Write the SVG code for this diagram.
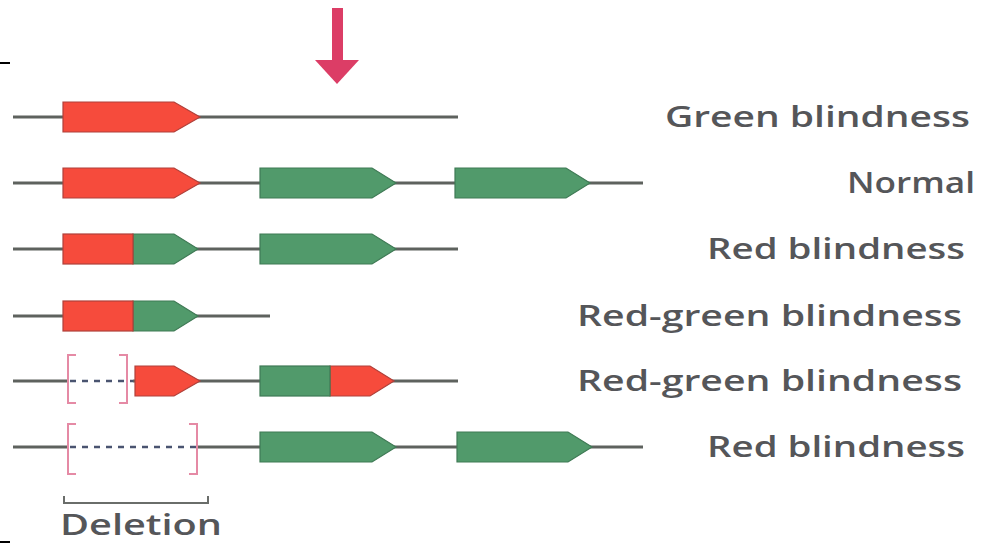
<svg xmlns="http://www.w3.org/2000/svg" width="986" height="543" viewBox="0 0 986 543">
<defs>
<style>
.chr{stroke:#5e625e;stroke-width:3;fill:none}
.dash{stroke:#4a5470;stroke-width:2.5;stroke-dasharray:6 6;fill:none}
.red{fill:#f64b3c;stroke:#b0403a;stroke-width:1.2}
.grn{fill:#519a6b;stroke:#3f7a55;stroke-width:1.2}
.brk{stroke:#e58aa5;stroke-width:2;fill:none}
.lbl{font-family:"Open Sans","Liberation Sans",sans-serif;font-size:28px;font-weight:600;fill:#555659}
</style>
</defs>
<rect width="986" height="543" fill="#ffffff"/>
<line x1="0" y1="63" x2="10" y2="63" stroke="#000" stroke-width="2"/>
<line x1="0" y1="542" x2="10" y2="542" stroke="#000" stroke-width="2"/>
<g id="arrow">
<rect x="332" y="8" width="11" height="54" fill="#dc3d66"/>
<polygon points="315,60 359,60 337,84" fill="#dc3d66"/>
</g>
<g id="connectors">
<line class="chr" x1="13" y1="117" x2="458" y2="117"/>
<line class="chr" x1="13" y1="183" x2="643" y2="183"/>
<line class="chr" x1="13" y1="249" x2="458" y2="249"/>
<line class="chr" x1="13" y1="316" x2="270" y2="316"/>
<line class="chr" x1="13" y1="381" x2="68" y2="381"/>
<line class="chr" x1="133" y1="381" x2="458" y2="381"/>
<line class="dash" x1="70" y1="381" x2="133" y2="381"/>
<line class="chr" x1="13" y1="447" x2="68" y2="447"/>
<line class="chr" x1="197" y1="447" x2="643" y2="447"/>
<line class="dash" x1="70" y1="447" x2="197" y2="447"/>
</g>
<g id="row1">
<polygon class="red" points="63,102 174,102 200,117 174,132 63,132"/>
</g>
<g id="row2">
<polygon class="red" points="63,168 174,168 200,183 174,198 63,198"/>
<polygon class="grn" points="260,168 372,168 396,183 372,198 260,198"/>
<polygon class="grn" points="455,168 566,168 590,183 566,198 455,198"/>
</g>
<g id="row3">
<polygon class="grn" points="133,234 174,234 198,249 174,264 133,264"/>
<rect class="red" x="63" y="234" width="70" height="30"/>
<polygon class="grn" points="260,234 372,234 396,249 372,264 260,264"/>
</g>
<g id="row4">
<polygon class="grn" points="133,301 174,301 198,316 174,331 133,331"/>
<rect class="red" x="63" y="301" width="70" height="30"/>
</g>
<g id="row5">
<path class="brk" d="M76,355 H68 V403 H76 M119,355 H127 V403 H119"/>
<polygon class="red" points="135,366 174,366 200,381 174,396 135,396"/>
<polygon class="red" points="330,366 370,366 394,381 370,396 330,396"/>
<rect class="grn" x="260" y="366" width="70" height="30"/>
</g>
<g id="row6">
<path class="brk" d="M76,424 H68 V474 H76 M189,424 H197 V474 H189"/>
<polygon class="grn" points="260,432 372,432 396,447 372,462 260,462"/>
<polygon class="grn" points="457,432 568,432 592,447 568,462 457,462"/>
</g>
<g id="deletion">
<path d="M64,496 V503 H208 V496" stroke="#6a6d6a" stroke-width="2" fill="none"/>
<text class="lbl" x="60" y="535" font-size="26" textLength="162" lengthAdjust="spacingAndGlyphs">Deletion</text>
</g>
<g id="labels">
<text class="lbl" x="665" y="127" textLength="305" lengthAdjust="spacingAndGlyphs">Green blindness</text>
<text class="lbl" x="847" y="193" textLength="128" lengthAdjust="spacingAndGlyphs">Normal</text>
<text class="lbl" x="707" y="259" textLength="258" lengthAdjust="spacingAndGlyphs">Red blindness</text>
<text class="lbl" x="577" y="326" textLength="385" lengthAdjust="spacingAndGlyphs">Red-green blindness</text>
<text class="lbl" x="577" y="391" textLength="385" lengthAdjust="spacingAndGlyphs">Red-green blindness</text>
<text class="lbl" x="707" y="457" textLength="258" lengthAdjust="spacingAndGlyphs">Red blindness</text>
</g>
</svg>
